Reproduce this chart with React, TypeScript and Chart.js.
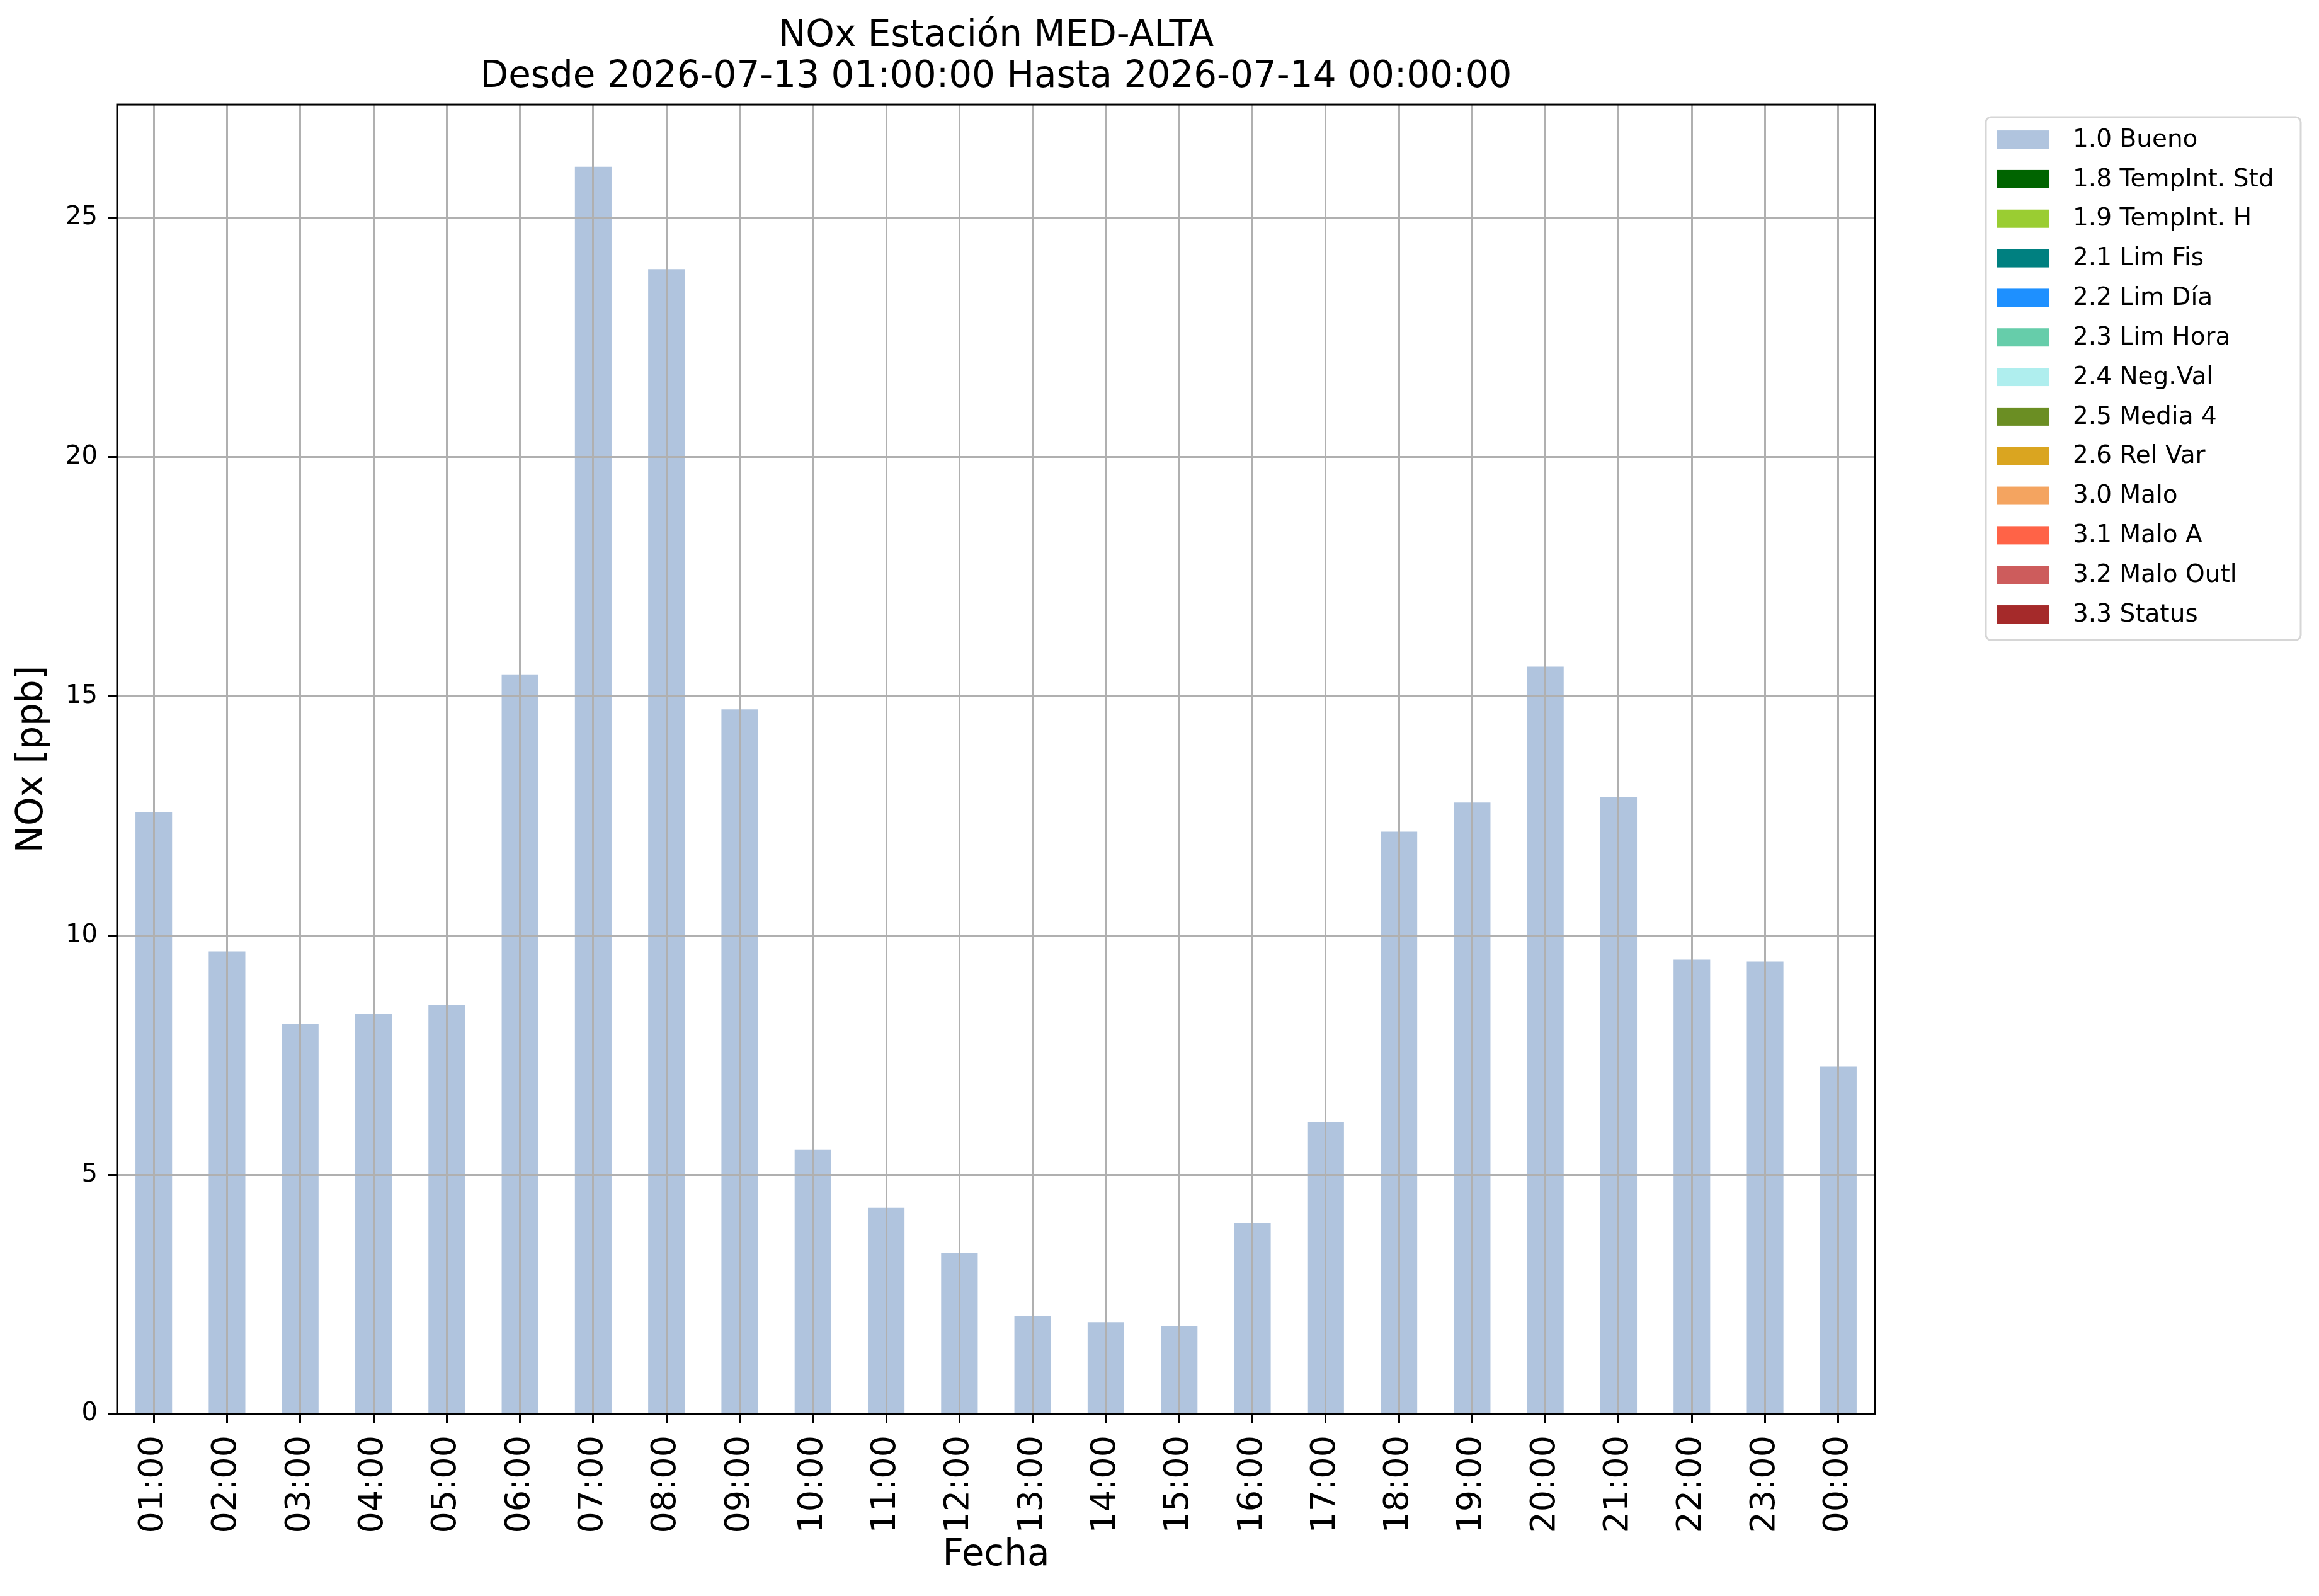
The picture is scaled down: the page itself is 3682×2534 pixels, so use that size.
import { useEffect, useRef } from "react";
import { Chart, registerables, Plugin } from "chart.js";

Chart.register(...registerables);

const hours = [
  "01:00", "02:00", "03:00", "04:00", "05:00", "06:00", "07:00", "08:00",
  "09:00", "10:00", "11:00", "12:00", "13:00", "14:00", "15:00", "16:00",
  "17:00", "18:00", "19:00", "20:00", "21:00", "22:00", "23:00", "00:00",
];

// NOx [ppb], flag 1.0 (Bueno)
const buenoValues = [
  12.58, 9.67, 8.15, 8.36, 8.55, 15.46, 26.07, 23.93, 14.73, 5.52, 4.31, 3.37,
  2.05, 1.92, 1.84, 3.99, 6.11, 12.17, 12.78, 15.62, 12.9, 9.5, 9.46, 7.26,
];

const flagLabels = [
  "1.0 Bueno",
  "1.8 TempInt. Std",
  "1.9 TempInt. H",
  "2.1 Lim Fis",
  "2.2 Lim Día",
  "2.3 Lim Hora",
  "2.4 Neg.Val",
  "2.5 Media 4",
  "2.6 Rel Var",
  "3.0 Malo",
  "3.1 Malo A",
  "3.2 Malo Outl",
  "3.3 Status",
];

const flagColors = [
  "#b0c4de", "#006400", "#9acd32", "#008080", "#1e90ff", "#66cdaa", "#afeeee",
  "#6b8e23", "#daa520", "#f4a460", "#ff6347", "#cd5c5c", "#a52a2a",
];

const yTickValues = [0, 5, 10, 15, 20, 25];
const yMax = 27.37;

const titleLines = [
  "NOx Estación MED-ALTA",
  "Desde 2026-07-13 01:00:00 Hasta 2026-07-14 00:00:00",
];

const FONT = "'DejaVu Sans'";

// frame around the plot area, like matplotlib spines
const framePlugin: Plugin<"bar"> = {
  id: "frame",
  afterDraw(chart) {
    const { ctx, chartArea } = chart;
    ctx.save();
    ctx.strokeStyle = "#000";
    ctx.lineWidth = 3;
    ctx.strokeRect(
      chartArea.left,
      chartArea.top,
      chartArea.right - chartArea.left,
      chartArea.bottom - chartArea.top
    );
    ctx.restore();
  },
};

// legend in a rounded box outside the axes, top right
const boxLegend: Plugin<"bar"> = {
  id: "boxLegend",
  afterDraw(chart) {
    const { ctx, chartArea } = chart;
    const left = chartArea.right + 176;
    const top = chartArea.top + 20;
    const rowH = 62.83;
    ctx.save();
    ctx.beginPath();
    ctx.roundRect(left, top, 500, 830, 8);
    ctx.fillStyle = "#fff";
    ctx.fill();
    ctx.strokeStyle = "#d6d6d6";
    ctx.lineWidth = 3;
    ctx.stroke();
    ctx.font = `39px ${FONT}`;
    ctx.textBaseline = "middle";
    chart.data.datasets.forEach((ds, i) => {
      const cy = top + 35.5 + i * rowH;
      ctx.fillStyle = ds.backgroundColor as string;
      ctx.fillRect(left + 18, cy - 14.5, 83, 29);
      ctx.fillStyle = "#000";
      ctx.fillText(ds.label ?? "", left + 138, cy + 1);
    });
    ctx.restore();
  },
};

function NoxChart() {
  const canvasRef = useRef<HTMLCanvasElement>(null);

  useEffect(() => {
    if (!canvasRef.current) return;
    document.body.style.margin = "0";

    const chart = new Chart(canvasRef.current, {
      type: "bar",
      data: {
        labels: hours,
        datasets: flagLabels.map((label, i) => ({
          label,
          data: i === 0 ? buenoValues : hours.map(() => null),
          backgroundColor: flagColors[i],
          barPercentage: 0.5,
          categoryPercentage: 1,
        })),
      },
      options: {
        animation: false,
        responsive: true,
        maintainAspectRatio: false,
        devicePixelRatio: 1,
        layout: { padding: { left: 0, right: 705, top: 0, bottom: 0 } },
        plugins: {
          legend: { display: false },
          tooltip: { enabled: false },
          title: {
            display: true,
            text: titleLines,
            fullSize: false,
            color: "#000",
            font: { family: FONT, size: 58, weight: "normal", lineHeight: 1.13 },
            padding: { top: 25, bottom: 10 },
          },
        },
        scales: {
          x: {
            stacked: true,
            offset: true,
            afterFit: (scale) => {
              scale.height = 289;
            },
            grid: {
              z: 1,
              offset: false,
              color: "#b0b0b0",
              lineWidth: 3,
              tickLength: 15,
              tickColor: "#000",
              tickWidth: 3,
            },
            border: { display: false },
            ticks: {
              autoSkip: false,
              maxRotation: 90,
              minRotation: 90,
              padding: 19,
              color: "#000",
              font: { family: FONT, size: 54 },
            },
            title: {
              display: true,
              text: "Fecha",
              color: "#000",
              font: { family: FONT, size: 58, lineHeight: 1.2 },
              padding: { top: 0, bottom: 29 },
            },
          },
          y: {
            stacked: true,
            min: 0,
            max: yMax,
            afterFit: (scale) => {
              scale.width = 186;
            },
            afterBuildTicks: (scale) => {
              scale.ticks = yTickValues.map((value) => ({ value }));
            },
            grid: {
              z: 1,
              color: "#b0b0b0",
              lineWidth: 3,
              tickLength: 14,
              tickColor: "#000",
              tickWidth: 3,
            },
            border: { display: false },
            ticks: {
              padding: 17,
              color: "#000",
              font: { family: FONT, size: 40 },
            },
            title: {
              display: true,
              text: "NOx [ppb]",
              color: "#000",
              font: { family: FONT, size: 58, lineHeight: 1.2 },
              padding: { top: 17, bottom: 0 },
            },
          },
        },
      },
      plugins: [framePlugin, boxLegend],
    });

    return () => {
      chart.destroy();
    };
  }, []);

  return (
    <div style={{ width: "3682px", height: "2534px", position: "relative" }}>
      <canvas ref={canvasRef} />
    </div>
  );
}

export default function App() {
  return <NoxChart />;
}
